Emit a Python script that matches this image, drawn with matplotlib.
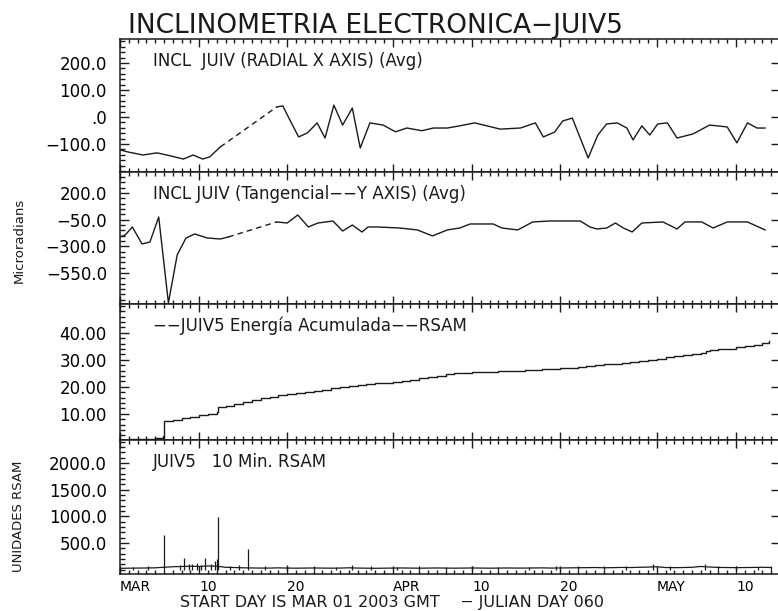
import matplotlib
matplotlib.use("Agg")
import matplotlib.pyplot as plt
from matplotlib.ticker import MultipleLocator

# days counted from MAR 01 2003 (day 0)
radial_days_a = [0, 0.8, 2.6, 4.2, 5.7, 7.2, 8.3, 9.4, 10.2, 11.4]
radial_vals_a = [-122, -129, -141, -133, -144, -156, -141, -156, -148, -111]
radial_days_b = [17.8, 18.5, 19.3, 20.3, 21.3, 22.4, 23.3, 24.3, 25.3, 26.4,
                 27.3, 28.4, 29.9, 31.3, 32.6, 34.3, 35.6, 37.2, 38.6, 40.3,
                 41.7, 43.2, 45.5, 47.2, 48.1, 49.4, 50.3, 51.4, 53.2, 54.3,
                 55.3, 56.5, 57.6, 58.3, 59.3, 60.2, 61.1, 62.2, 63.3, 65.1,
                 67.0, 69.0, 70.1, 71.3, 72.4, 73.3]
radial_vals_b = [37, 41, -11, -74, -59, -22, -78, 44, -30, 33,
                 -115, -22, -30, -55, -41, -51, -41, -41, -33, -22,
                 -33, -45, -41, -22, -74, -56, -15, -4, -152, -67,
                 -26, -22, -41, -85, -33, -67, -26, -22, -78, -63,
                 -30, -37, -96, -22, -41, -41]

tang_days_a = [0, 0.6, 1.4, 2.5, 3.4, 4.4, 5.5, 6.5, 7.5, 8.5, 9.9, 11.4, 12.3]
tang_vals_a = [-212, -193, -118, -277, -259, -25, -830, -380, -221, -184, -221, -231, -212]
tang_days_b = [17.8, 19.0, 20.2, 21.4, 22.5, 24.2, 25.3, 26.4, 27.5, 28.2,
               29.2, 31.8, 33.8, 35.5, 37.2, 38.6, 39.8, 42.4, 43.4, 45.2,
               46.9, 48.9, 52.3, 53.4, 54.2, 55.3, 56.3, 57.2, 58.2, 59.3,
               61.7, 63.3, 64.2, 66.1, 67.4, 69.0, 71.3, 73.3]
tang_vals_b = [-71, -81, -6, -118, -81, -62, -156, -100, -165, -118,
               -118, -128, -146, -202, -146, -128, -90, -90, -128, -146,
               -71, -62, -62, -118, -137, -128, -81, -128, -165, -81,
               -71, -137, -71, -71, -128, -71, -71, -146]

energy_days = [0, 1, 2, 3, 4, 4.9, 5, 6, 7, 8, 9, 10, 11, 11.1, 12, 13, 14, 15, 16,
               17, 18, 19, 20, 21, 22, 23, 24, 25, 26, 27, 28, 29, 30, 31, 32, 33,
               34, 35, 36, 37, 38, 39, 40, 41, 42, 43, 44, 45, 46, 47, 48, 49, 50,
               51, 52, 53, 54, 55, 56, 57, 58, 59, 60, 61, 62, 63, 64, 65, 66, 66.6,
               67, 68, 69, 70, 71, 72, 73, 73.7]
energy_vals = [0.4, 0.5, 0.6, 0.8, 1.1, 1.6, 7.3, 7.8, 8.4, 9.0, 9.6, 10.1, 10.6, 12.6,
               13.0, 13.8, 14.5, 15.1, 15.7, 16.3, 16.8, 17.3, 17.8, 18.2, 18.6, 19.0,
               19.5, 19.9, 20.3, 20.7, 21.0, 21.3, 21.6, 21.8, 22.1, 22.6, 23.1, 23.6,
               24.1, 24.7, 25.0, 25.2, 25.4, 25.5, 25.6, 25.7, 25.9, 26.0, 26.1, 26.3,
               26.5, 26.7, 26.9, 27.1, 27.3, 27.6, 28.0, 28.3, 28.6, 29.0, 29.3, 29.6,
               30.0, 30.5, 30.9, 31.3, 31.7, 32.1, 32.5, 33.4, 33.6, 33.9, 34.2, 34.6,
               35.0, 35.5, 36.3, 37.0]

rsam_days = list(range(75))
rsam_base = [25, 28, 30, 32, 35, 45, 55, 60, 65, 60, 70, 65, 45, 40, 35, 32, 30, 30, 34, 30,
             28, 30, 32, 30, 28, 30, 35, 30, 28, 26, 28, 30, 32, 30, 28, 30, 32, 30, 28, 30,
             32, 30, 28, 30, 32, 30, 30, 32, 34, 30, 32, 34, 36, 38, 40, 36, 38, 42, 40, 45,
             48, 55, 40, 38, 40, 45, 60, 50, 42, 40, 38, 40, 42, 45, 40]
spike_days = [5.0, 7.3, 9.7, 11.1, 14.5, 8.7, 10.8, 11.0, 6.8, 7.8, 8.2, 9.2, 10.3, 3.2, 1.5,
              12.5, 13.5, 16.5, 19.0, 22.0, 24.5, 26.4, 28.5, 31.5, 34.0, 37.0, 40.0, 43.0,
              46.5, 49.5, 52.0, 55.0, 57.5, 60.6, 62.5, 66.5, 68.0, 70.0, 72.5, 74.0]
spike_vals = [655, 225, 225, 990, 390, 130, 160, 200, 90, 110, 100, 80, 110, 60, 50,
              70, 80, 60, 90, 60, 50, 95, 60, 55, 60, 55, 70, 50,
              55, 60, 60, 70, 75, 110, 60, 100, 70, 60, 55, 60]

month_ticks = [0, 9, 19, 31, 40, 50, 61, 70]
month_labels = ["MAR", "10", "20", "APR", "10", "20", "MAY", "10"]

panel_titles = ["INCL  JUIV (RADIAL X AXIS) (Avg)",
                "INCL JUIV (Tangencial\u2212\u2212Y AXIS) (Avg)",
                "\u2212\u2212JUIV5 Energía Acumulada\u2212\u2212RSAM",
                "JUIV5   10 Min. RSAM"]
ytick_vals = [[200, 100, 0, -100], [200, -50, -300, -550], [40, 30, 20, 10], [2000, 1500, 1000, 500]]
ytick_text = [["200.0", "100.0", ".0", "\u2212100.0"],
              ["200.0", "\u221250.0", "\u2212300.0", "\u2212550.0"],
              ["40.00", "30.00", "20.00", "10.00"],
              ["2000.0", "1500.0", "1000.0", "500.0"]]
ylims = [(-204, 289), (-840, 397), (0.3, 50.7), (-81, 2431)]
yminor = [20, 50, 2, 100]

W, H = 778, 611
fig = plt.figure(figsize=(W / 100, H / 100), dpi=100)
rows = [(39, 172), (172, 304), (304, 440), (440, 574)]
x0, x1 = 120, 780
col = "#1a1a1a"

axes = []
for i, (t, b) in enumerate(rows):
    ax = fig.add_axes([x0 / W, 1 - b / H, (x1 - x0) / W, (b - t) / H])
    ax.set_xlim(0, 75)
    ax.set_ylim(*ylims[i])
    ax.set_xticks(month_ticks)
    ax.xaxis.set_minor_locator(MultipleLocator(1))
    ax.set_yticks(ytick_vals[i])
    ax.set_yticklabels(ytick_text[i])
    ax.yaxis.set_minor_locator(MultipleLocator(yminor[i]))
    ax.tick_params(axis="x", which="both", direction="in", top=True, bottom=True,
                   width=1.0, color=col)
    ax.tick_params(axis="x", which="major", length=5.8, pad=4, labelsize=10)
    ax.tick_params(axis="x", which="minor", length=2.9)
    ax.tick_params(axis="y", which="both", direction="in", left=True, right=True,
                   width=1.0, color=col)
    ax.tick_params(axis="y", which="major", length=6.5, pad=9.4, labelsize=12)
    ax.tick_params(axis="y", which="minor", length=3.6, right=False)
    for s in ax.spines.values():
        s.set_linewidth(1.1)
        s.set_color(col)
    if i < 3:
        ax.set_xticklabels([])
    else:
        ax.set_xticklabels(month_labels, ha="left")
    ax.text(33 / (x1 - x0), 1 - 22 / (b - t), panel_titles[i], transform=ax.transAxes,
            fontsize=12, va="center", ha="left", color=col)
    axes.append(ax)

lw = 1.0
axes[0].plot(radial_days_a, radial_vals_a, color=col, lw=lw)
axes[0].plot([radial_days_a[-1], radial_days_b[0]], [radial_vals_a[-1], radial_vals_b[0]],
             color=col, lw=lw, ls=(0, (4, 3)))
axes[0].plot(radial_days_b, radial_vals_b, color=col, lw=lw)

axes[1].plot(tang_days_a, tang_vals_a, color=col, lw=lw)
axes[1].plot([tang_days_a[-1], tang_days_b[0]], [tang_vals_a[-1], tang_vals_b[0]],
             color=col, lw=lw, ls=(0, (4, 3)))
axes[1].plot(tang_days_b, tang_vals_b, color=col, lw=lw)

axes[2].step(energy_days, energy_vals, where="post", color=col, lw=lw)

axes[3].plot(rsam_days, rsam_base, color=col, lw=0.9)
axes[3].vlines(spike_days, 0, spike_vals, color=col, lw=0.9)

fig.text(128 / W, 1 - 33 / H, "INCLINOMETRIA ELECTRONICA\u2212JUIV5", fontsize=19,
         ha="left", va="baseline", color=col)
fig.text(19 / W, 1 - 240 / H, "Microradians", rotation=90, fontsize=9.5,
         ha="center", va="center", color=col)
fig.text(19 / W, 1 - 516 / H, "UNIDADES RSAM", rotation=90, fontsize=9.5,
         ha="center", va="center", color=col)
fig.text(180 / W, 1 - 603 / H, "START DAY IS MAR 01 2003 GMT    \u2212 JULIAN DAY 060",
         fontsize=11.5, ha="left", va="center", color=col)

fig.savefig("out.png", dpi=100)
